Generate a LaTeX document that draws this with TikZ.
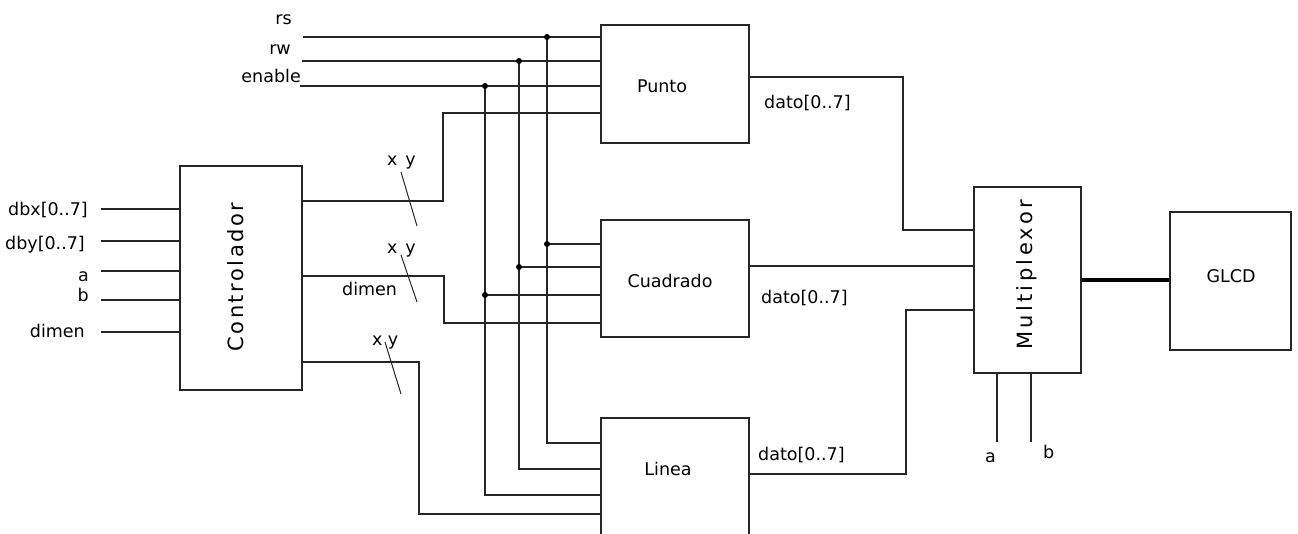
\documentclass[tikz,border=0pt]{standalone}
\usepackage{fontspec}
\setmainfont{DejaVu Sans}
\newfontfamily\spacedfontA[LetterSpace=12]{DejaVu Sans}
\newfontfamily\spacedfontB[LetterSpace=16]{DejaVu Sans}
\begin{document}
\begin{tikzpicture}[x=1pt,y=-1pt,
  wire/.style={draw=black!85, line width=1.3pt},
  slash/.style={draw=black!85, line width=1pt},
  thick wire/.style={draw=black, line width=4pt},
  blk/.style={draw=black!85, line width=1.3pt, inner sep=0pt},
  lbl/.style={font=\fontsize{17.5}{20}\selectfont, text=black, inner sep=0pt},
  vlbl/.style={text=black, inner sep=0pt, rotate=90},
  jdot/.style={circle, fill=black, inner sep=0pt, minimum size=6pt}]
\useasboundingbox (0,0) rectangle (1298,533);
\clip (0,0) rectangle (1298,533);

% ---------- blocks ----------
\node[blk, minimum width=122pt, minimum height=224pt] (ctrl) at (241,278) {};
\node[vlbl, font=\fontsize{21}{24}\spacedfontA] (ctrltxt) at (236,277) {Controlador};
\node[blk, minimum width=148pt, minimum height=118pt] (punto) at (675,84) {};
\node[lbl] (puntotxt) at (662,86) {Punto};
\node[blk, minimum width=148pt, minimum height=117pt] (cuad) at (675,278.5) {};
\node[lbl] (cuadtxt) at (670,281) {Cuadrado};
\node[blk, minimum width=148pt, minimum height=150pt] (linea) at (675,493) {};
\node[lbl] (lineatxt) at (668,469) {Linea};
\node[blk, minimum width=107pt, minimum height=186pt] (mux) at (1027.5,280) {};
\node[vlbl, font=\fontsize{21}{24}\spacedfontB] (muxtxt) at (1027,275) {Multiplexor};
\node[blk, minimum width=121pt, minimum height=138pt] (glcd) at (1230.5,281) {};
\node[lbl] (glcdtxt) at (1231,276) {GLCD};

% ---------- top signal labels ----------
\node[lbl, anchor=base east] (rs) at (292,24) {rs};
\node[lbl, anchor=base east] (rw) at (291,54) {rw};
\node[lbl, anchor=base east] (en) at (301,82) {enable};

\coordinate (rsS) at (303,37);
\coordinate (rwS) at (302,61);
\coordinate (enS) at (300,86);
\coordinate (rsJ) at (547,37);
\coordinate (rwJ) at (519,61);
\coordinate (enJ) at (485,86);

\draw[wire] (rsS) -- (rsS -| punto.west);
\draw[wire] (rwS) -- (rwS -| punto.west);
\draw[wire] (enS) -- (enS -| punto.west);

% vertical buses
\coordinate (rsC) at (547,244);
\coordinate (rwC) at (519,267);
\coordinate (enC) at (485,295);
\coordinate (rsL) at (547,443);
\coordinate (rwL) at (519,469);
\coordinate (enL) at (485,495);
\draw[wire] (rsJ) -- (rsL) -- (rsL -| linea.west);
\draw[wire] (rwJ) -- (rwL) -- (rwL -| linea.west);
\draw[wire] (enJ) -- (enL) -- (enL -| linea.west);
\draw[wire] (rsC) -- (rsC -| cuad.west);
\draw[wire] (rwC) -- (rwC -| cuad.west);
\draw[wire] (enC) -- (enC -| cuad.west);

\foreach \p in {rsJ,rwJ,enJ,rsC,rwC,enC} \node[jdot] at (\p) {};

% ---------- controller outputs ----------
\coordinate (o1) at (302,201);
\coordinate (o1a) at (443,201);
\coordinate (o1b) at (443,113);
\draw[wire] (o1) -- (o1a) -- (o1b) -- (o1b -| punto.west);
\coordinate (o2) at (302,276);
\coordinate (o2a) at (444,276);
\coordinate (o2b) at (444,323);
\draw[wire] (o2) -- (o2a) -- (o2b) -- (o2b -| cuad.west);
\coordinate (o3) at (302,362);
\coordinate (o3a) at (419,362);
\coordinate (o3b) at (419,514);
\draw[wire] (o3) -- (o3a) -- (o3b) -- (o3b -| linea.west);

% bus slashes
\coordinate (s1a) at (401,172); \coordinate (s1b) at (417,226);
\coordinate (s2a) at (401,255); \coordinate (s2b) at (417,302);
\coordinate (s3a) at (385,342); \coordinate (s3b) at (401,394);
\draw[slash] (s1a) -- (s1b);
\draw[slash] (s2a) -- (s2b);
\draw[slash] (s3a) -- (s3b);
\node[lbl, anchor=base west] (xy1) at (387,165) {x\hspace{0.45em}y};
\node[lbl, anchor=base west] (xy2) at (387,253) {x\hspace{0.45em}y};
\node[lbl, anchor=base west] (xy3) at (372,345) {x\hspace{0.3em}y};
\node[lbl, anchor=base west] (dimen2) at (342,295) {dimen};

% ---------- left inputs ----------
\node[lbl, anchor=base east] (dbx) at (88,215) {dbx[0..7]};
\node[lbl, anchor=base east] (dby) at (85,249) {dby[0..7]};
\node[lbl, anchor=base east] (ina) at (89,281) {a};
\node[lbl, anchor=base east] (inb) at (89,301) {b};
\node[lbl, anchor=base east] (indim) at (85,337) {dimen};
\foreach \yy in {209,241,271,300,332}
  \draw[wire] (101,\yy) -- (101,\yy -| ctrl.west);

% ---------- block outputs ----------
\coordinate (p1) at (749,77);
\coordinate (p1a) at (903,77);
\coordinate (p1b) at (903,230);
\draw[wire] (p1) -- (p1a) -- (p1b) -- (p1b -| mux.west);
\coordinate (c1) at (749,266);
\draw[wire] (c1) -- (c1 -| mux.west);
\coordinate (l1) at (749,474);
\coordinate (l1a) at (906,474);
\coordinate (l1b) at (906,310);
\draw[wire] (l1) -- (l1a) -- (l1b) -- (l1b -| mux.west);
\node[lbl, anchor=base west] (d1) at (764,108) {dato[0..7]};
\node[lbl, anchor=base west] (d2) at (761,303) {dato[0..7]};
\node[lbl, anchor=base west] (d3) at (758,460) {dato[0..7]};

% mux to GLCD
\draw[thick wire] (mux.east |- 0,280) -- (glcd.west |- 0,280);

% mux selects
\coordinate (ma) at (997,442);
\coordinate (mb) at (1031,442);
\draw[wire] (ma |- mux.south) -- (ma);
\draw[wire] (mb |- mux.south) -- (mb);
\node[lbl, anchor=base west] (sa) at (985,462) {a};
\node[lbl, anchor=base west] (sb) at (1043,458) {b};
\end{tikzpicture}
\end{document}
